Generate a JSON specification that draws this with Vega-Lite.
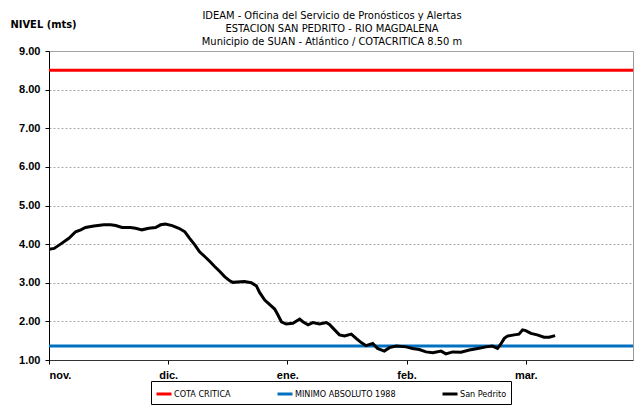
{
  "$schema": "https://vega.github.io/schema/vega-lite/v6.json",
  "width": 584,
  "height": 309,
  "autosize": {"type": "none"},
  "padding": {"left": 49, "top": 51, "right": 9, "bottom": 51},
  "background": "white",
  "title": {
    "text": ["IDEAM - Oficina del Servicio de Pronósticos y Alertas", "ESTACION SAN PEDRITO - RIO MAGDALENA", "Municipio de SUAN - Atlántico  /  COTACRITICA 8.50 m"],
    "anchor": "middle",
    "dx": -9,
    "offset": -29,
    "font": "Liberation Sans Narrow, Arial Narrow, DejaVu Sans Condensed, sans-serif",
    "fontSize": 11,
    "fontWeight": "normal",
    "lineHeight": 13,
    "color": "black"
  },
  "data": {
    "values": [
      {"serie": "COTA CRITICA", "d": 0, "v": 8.5},
      {"serie": "COTA CRITICA", "d": 147, "v": 8.5},
      {"serie": "MINIMO ABSOLUTO 1988", "d": 0, "v": 1.36},
      {"serie": "MINIMO ABSOLUTO 1988", "d": 147, "v": 1.36},
      {"serie": "San Pedrito", "d": 0, "v": 3.87},
      {"serie": "San Pedrito", "d": 1.3, "v": 3.89},
      {"serie": "San Pedrito", "d": 2.9, "v": 4.0},
      {"serie": "San Pedrito", "d": 5.0, "v": 4.15},
      {"serie": "San Pedrito", "d": 6.7, "v": 4.32},
      {"serie": "San Pedrito", "d": 8.0, "v": 4.37},
      {"serie": "San Pedrito", "d": 9.2, "v": 4.43},
      {"serie": "San Pedrito", "d": 11.3, "v": 4.47},
      {"serie": "San Pedrito", "d": 13.8, "v": 4.5},
      {"serie": "San Pedrito", "d": 15.5, "v": 4.5},
      {"serie": "San Pedrito", "d": 16.8, "v": 4.48},
      {"serie": "San Pedrito", "d": 18.4, "v": 4.43},
      {"serie": "San Pedrito", "d": 20.5, "v": 4.43},
      {"serie": "San Pedrito", "d": 21.8, "v": 4.41},
      {"serie": "San Pedrito", "d": 23.4, "v": 4.37},
      {"serie": "San Pedrito", "d": 25.1, "v": 4.41},
      {"serie": "San Pedrito", "d": 26.8, "v": 4.43},
      {"serie": "San Pedrito", "d": 28.1, "v": 4.5},
      {"serie": "San Pedrito", "d": 29.3, "v": 4.52},
      {"serie": "San Pedrito", "d": 31.0, "v": 4.48},
      {"serie": "San Pedrito", "d": 32.7, "v": 4.41},
      {"serie": "San Pedrito", "d": 34.2, "v": 4.32},
      {"serie": "San Pedrito", "d": 35.4, "v": 4.15},
      {"serie": "San Pedrito", "d": 36.7, "v": 3.98},
      {"serie": "San Pedrito", "d": 37.9, "v": 3.8},
      {"serie": "San Pedrito", "d": 39.2, "v": 3.68},
      {"serie": "San Pedrito", "d": 40.5, "v": 3.55},
      {"serie": "San Pedrito", "d": 41.7, "v": 3.42},
      {"serie": "San Pedrito", "d": 43.0, "v": 3.29},
      {"serie": "San Pedrito", "d": 44.2, "v": 3.16},
      {"serie": "San Pedrito", "d": 45.5, "v": 3.05},
      {"serie": "San Pedrito", "d": 46.3, "v": 3.01},
      {"serie": "San Pedrito", "d": 49.2, "v": 3.03},
      {"serie": "San Pedrito", "d": 50.9, "v": 3.0},
      {"serie": "San Pedrito", "d": 52.2, "v": 2.92},
      {"serie": "San Pedrito", "d": 53.0, "v": 2.75},
      {"serie": "San Pedrito", "d": 54.3, "v": 2.55},
      {"serie": "San Pedrito", "d": 55.5, "v": 2.44},
      {"serie": "San Pedrito", "d": 56.8, "v": 2.32},
      {"serie": "San Pedrito", "d": 57.6, "v": 2.17},
      {"serie": "San Pedrito", "d": 58.5, "v": 1.99},
      {"serie": "San Pedrito", "d": 59.7, "v": 1.93},
      {"serie": "San Pedrito", "d": 61.4, "v": 1.95},
      {"serie": "San Pedrito", "d": 63.1, "v": 2.06},
      {"serie": "San Pedrito", "d": 63.9, "v": 1.99},
      {"serie": "San Pedrito", "d": 65.2, "v": 1.91},
      {"serie": "San Pedrito", "d": 66.4, "v": 1.97},
      {"serie": "San Pedrito", "d": 68.1, "v": 1.93},
      {"serie": "San Pedrito", "d": 69.8, "v": 1.97},
      {"serie": "San Pedrito", "d": 70.6, "v": 1.92},
      {"serie": "San Pedrito", "d": 71.9, "v": 1.78},
      {"serie": "San Pedrito", "d": 73.1, "v": 1.65},
      {"serie": "San Pedrito", "d": 74.4, "v": 1.62},
      {"serie": "San Pedrito", "d": 76.1, "v": 1.67},
      {"serie": "San Pedrito", "d": 77.3, "v": 1.56},
      {"serie": "San Pedrito", "d": 78.6, "v": 1.45},
      {"serie": "San Pedrito", "d": 79.8, "v": 1.37},
      {"serie": "San Pedrito", "d": 81.5, "v": 1.43},
      {"serie": "San Pedrito", "d": 82.7, "v": 1.3},
      {"serie": "San Pedrito", "d": 84.4, "v": 1.23},
      {"serie": "San Pedrito", "d": 85.7, "v": 1.32},
      {"serie": "San Pedrito", "d": 87.4, "v": 1.36},
      {"serie": "San Pedrito", "d": 89.9, "v": 1.34},
      {"serie": "San Pedrito", "d": 91.5, "v": 1.3},
      {"serie": "San Pedrito", "d": 93.2, "v": 1.27},
      {"serie": "San Pedrito", "d": 94.9, "v": 1.21},
      {"serie": "San Pedrito", "d": 96.6, "v": 1.19},
      {"serie": "San Pedrito", "d": 98.7, "v": 1.23},
      {"serie": "San Pedrito", "d": 99.9, "v": 1.16},
      {"serie": "San Pedrito", "d": 101.6, "v": 1.21},
      {"serie": "San Pedrito", "d": 103.7, "v": 1.2},
      {"serie": "San Pedrito", "d": 105.8, "v": 1.26},
      {"serie": "San Pedrito", "d": 107.9, "v": 1.3},
      {"serie": "San Pedrito", "d": 110.0, "v": 1.34},
      {"serie": "San Pedrito", "d": 111.6, "v": 1.36},
      {"serie": "San Pedrito", "d": 112.9, "v": 1.3},
      {"serie": "San Pedrito", "d": 113.7, "v": 1.41},
      {"serie": "San Pedrito", "d": 114.6, "v": 1.56},
      {"serie": "San Pedrito", "d": 115.4, "v": 1.62},
      {"serie": "San Pedrito", "d": 117.1, "v": 1.65},
      {"serie": "San Pedrito", "d": 118.3, "v": 1.67},
      {"serie": "San Pedrito", "d": 119.2, "v": 1.78},
      {"serie": "San Pedrito", "d": 120.0, "v": 1.76},
      {"serie": "San Pedrito", "d": 121.3, "v": 1.69},
      {"serie": "San Pedrito", "d": 122.9, "v": 1.65},
      {"serie": "San Pedrito", "d": 124.6, "v": 1.59},
      {"serie": "San Pedrito", "d": 125.9, "v": 1.59},
      {"serie": "San Pedrito", "d": 127.4, "v": 1.63}
    ]
  },
  "mark": {"type": "line", "strokeWidth": 3, "clip": true},
  "encoding": {
    "x": {
      "field": "d",
      "type": "quantitative",
      "scale": {"domain": [0, 147], "nice": false, "zero": false},
      "axis": {
        "values": [0, 30, 60, 90, 120],
        "labelExpr": "['nov.','dic.','ene.','feb.','mar.'][round(datum.value/30)]",
        "title": null,
        "grid": false,
        "labelFont": "Liberation Sans, Arial, sans-serif",
        "labelFontSize": 11,
        "labelFontWeight": "bold",
        "labelColor": "black",
        "labelPadding": 5,
        "tickSize": 4,
        "tickColor": "black",
        "domainColor": "#333333"
      }
    },
    "y": {
      "field": "v",
      "type": "quantitative",
      "scale": {"domain": [1, 9], "nice": false, "zero": false},
      "axis": {
        "values": [1, 2, 3, 4, 5, 6, 7, 8, 9],
        "format": ".2f",
        "title": "NIVEL (mts)",
        "titleAngle": 0,
        "titleAlign": "left",
        "titleBaseline": "middle",
        "titleX": -39,
        "titleY": -27,
        "titleFont": "Liberation Sans Narrow, Arial Narrow, DejaVu Sans Condensed, sans-serif",
        "titleFontSize": 11,
        "titleFontWeight": "bold",
        "titleColor": "black",
        "labelFont": "Liberation Sans, Arial, sans-serif",
        "labelFontSize": 11,
        "labelFontWeight": "bold",
        "labelColor": "black",
        "labelPadding": 5,
        "tickSize": 4,
        "tickColor": "black",
        "domainColor": "black",
        "grid": true,
        "gridColor": "#aaaaaa",
        "gridDash": [2, 2]
      }
    },
    "color": {
      "field": "serie",
      "type": "nominal",
      "scale": {
        "domain": ["COTA CRITICA", "MINIMO ABSOLUTO 1988", "San Pedrito"],
        "range": ["#FF0000", "#0070C0", "#000000"]
      },
      "legend": {
        "orient": "none",
        "legendX": 102,
        "legendY": 330,
        "direction": "horizontal",
        "title": null,
        "symbolType": "stroke",
        "symbolStrokeWidth": 3,
        "symbolSize": 225,
        "labelFont": "Liberation Sans Narrow, Arial Narrow, DejaVu Sans Condensed, sans-serif",
        "labelFontSize": 9,
        "labelColor": "black",
        "labelOffset": 1,
        "columnPadding": 40,
        "strokeColor": "black",
        "fillColor": "white",
        "padding": 4
      }
    }
  },
  "config": {
    "view": {"stroke": "#999999", "strokeWidth": 1}
  }
}
